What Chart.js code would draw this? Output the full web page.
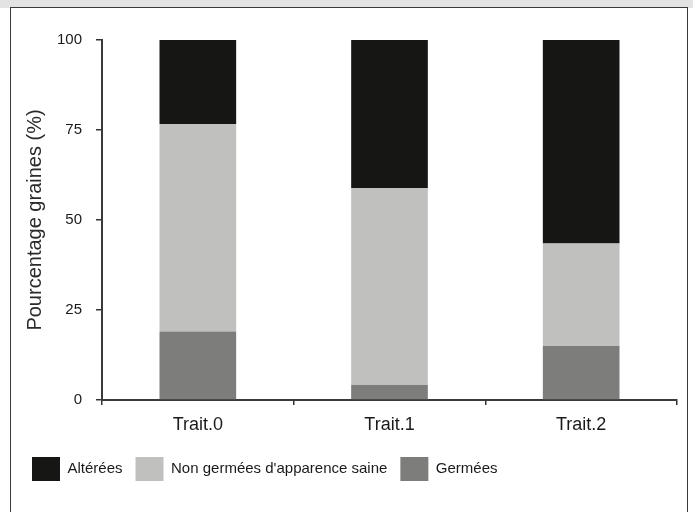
<!DOCTYPE html>
<html>
<head>
<meta charset="utf-8">
<script src="https://cdn.jsdelivr.net/npm/chart.js@4"></script>
<style>
  body { margin: 0; background: #fff; width: 693px; height: 512px; overflow: hidden; position: relative; }
  .band { position: absolute; left: 0; top: 0; width: 693px; height: 8px; background: #e3e3e3; }
  .frame { position: absolute; left: 10px; top: 7px; width: 676px; height: 520px; border: 1px solid #3a3a3a; background: #fff; }
  canvas { position: absolute; left: 0; top: 0; }
</style>
</head>
<body>
<div class="band"></div>
<div class="frame"></div>
<canvas id="chart" width="693" height="512"></canvas>
<script>
const categories = ['Trait.0', 'Trait.1', 'Trait.2'];
const germees = [19.0, 4.2, 15.0];
const nonGermees = [57.7, 54.6, 28.5];
const alterees = [23.3, 41.2, 56.5];
const yTicks = [0, 25, 50, 75, 100];

const family = '"Liberation Sans", Arial, sans-serif';
const font = { family: family, size: 15 };

const ctx = document.getElementById('chart').getContext('2d');
new Chart(ctx, {
    type: 'bar',
    data: {
        labels: categories,
        datasets: [
            { label: 'Germées', data: germees, backgroundColor: '#7d7d7b', borderWidth: 0 },
            { label: "Non germées d'apparence saine", data: nonGermees, backgroundColor: '#c0c0be', borderWidth: 0 },
            { label: 'Altérées', data: alterees, backgroundColor: '#161614', borderWidth: 0 },
        ],
    },
    options: {
        responsive: false,
        devicePixelRatio: 1,
        animation: false,
        categoryPercentage: 1,
        barPercentage: 0.4,
        layout: { padding: { left: 19, right: 16, top: 40, bottom: 21 } },
        plugins: {
            tooltip: { enabled: false },
            legend: {
                position: 'bottom',
                align: 'start',
                reverse: true,
                labels: {
                    boxWidth: 28,
                    boxHeight: 24,
                    padding: 13,
                    color: '#1a1a1a',
                    font: font,
                },
            },
        },
        scales: {
            x: {
                stacked: true,
                grid: { drawOnChartArea: false, drawTicks: true, tickLength: 5, color: '#333', lineWidth: 1.5 },
                border: { color: '#3a3a3a', width: 2 },
                ticks: { color: '#1a1a1a', font: { family: family, size: 18 }, padding: 9 },
                afterFit: (axis) => { axis.height = 44; },
            },
            y: {
                stacked: true,
                min: 0,
                max: 100,
                afterBuildTicks: (axis) => { axis.ticks = yTicks.map(v => ({ value: v })); },
                grid: { drawOnChartArea: false, drawTicks: true, tickLength: 6, color: '#333', lineWidth: 1.5 },
                border: { color: '#3a3a3a', width: 2 },
                ticks: { color: '#1a1a1a', font: font, padding: 14 },
                title: {
                    display: true,
                    text: 'Pourcentage graines (%)',
                    color: '#2a2a2a',
                    font: { family: family, size: 20 },
                    padding: { top: 4, bottom: 0 },
                },
                afterFit: (axis) => { axis.width = 83; },
            },
        },
    },
});
</script>
</body>
</html>
